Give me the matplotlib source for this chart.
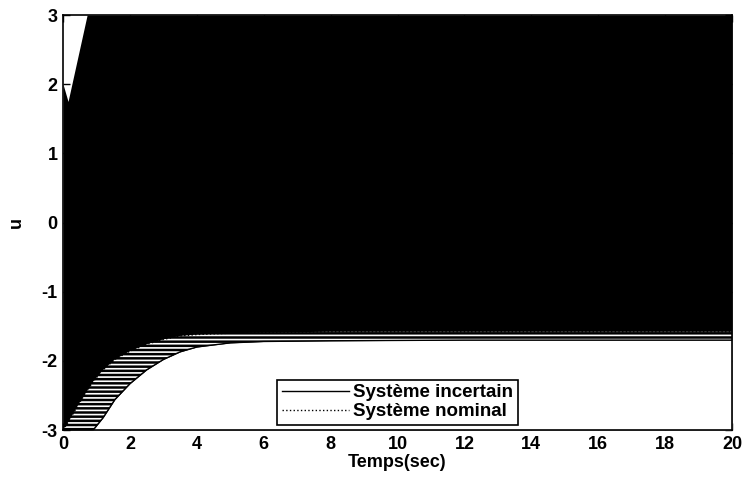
import matplotlib
matplotlib.use('Agg')
import matplotlib.pyplot as plt

plt.rcParams['font.family'] = ['Liberation Sans', 'DejaVu Sans']
plt.rcParams['axes.unicode_minus'] = False
plt.rcParams['hatch.linewidth'] = 1.2

# upper envelope of the chattering control (saturates at +3)
t_top = [0, 0.15, 0.72, 20]
u_top = [2.0, 1.75, 3.0, 3.0]

# lower envelopes: top of the dashed band and the white boundary
t_env = [0, 0.2, 0.5, 0.9, 1.2, 1.55, 2.0, 2.5, 3.0, 3.5, 4.0, 5.0, 6.0, 8.0, 12.0, 16.0, 20.0]
u_low_nom = [-3.0, -2.85, -2.6, -2.3, -2.13, -1.98, -1.86, -1.76, -1.69, -1.64,
             -1.62, -1.6, -1.59, -1.58, -1.58, -1.58, -1.58]
u_low_inc = [-3.0, -3.0, -3.0, -3.0, -2.82, -2.56, -2.33, -2.13, -1.98, -1.87,
             -1.8, -1.74, -1.72, -1.71, -1.70, -1.70, -1.70]

xticks = [0, 2, 4, 6, 8, 10, 12, 14, 16, 18, 20]
yticks = [-3, -2, -1, 0, 1, 2, 3]

fig = plt.figure(figsize=(7.45, 4.78), dpi=100)
ax = fig.add_axes([0.0846, 0.1004, 0.8980, 0.8682])

ax.fill_between(t_top, u_top, -3, color='black', linewidth=0, zorder=1)
ax.fill_between(t_env, u_low_nom, u_low_inc, facecolor='black', edgecolor='white',
                hatch='----', linewidth=0, zorder=2)
ax.fill_between(t_env, u_low_inc, -3, color='white', linewidth=0, zorder=3)

l1, = ax.plot(t_env, u_low_inc, '-', color='black', linewidth=1, zorder=4)
l2, = ax.plot(t_env, u_low_nom, ':', color='black', linewidth=1, zorder=4)

ax.set_xlim(0, 20)
ax.set_ylim(-3, 3)
ax.set_xticks(xticks)
ax.set_yticks(yticks)
ax.tick_params(direction='in', top=True, right=True, labelsize=13, length=5, width=1,
               pad=4)
for lab in ax.get_xticklabels() + ax.get_yticklabels():
    lab.set_fontweight('bold')
for s in ax.spines.values():
    s.set_linewidth(1.2)
    s.set_zorder(5)

ax.set_xlabel('Temps(sec)', fontsize=13, fontweight='bold', labelpad=1)
ax.set_ylabel('u', fontsize=13, fontweight='bold', labelpad=12)

leg = ax.legend([l1, l2], ['Système incertain', 'Système nominal'],
                loc='lower center', bbox_to_anchor=(0.5, 0.012),
                prop={'size': 13.5, 'weight': 'bold'}, handlelength=3.6,
                handletextpad=0.2, borderpad=0.25, labelspacing=0.1,
                borderaxespad=0, fancybox=False, framealpha=1, edgecolor='black')
leg.get_frame().set_linewidth(1.2)
leg.set_zorder(6)

fig.savefig('out.png', dpi=100)
